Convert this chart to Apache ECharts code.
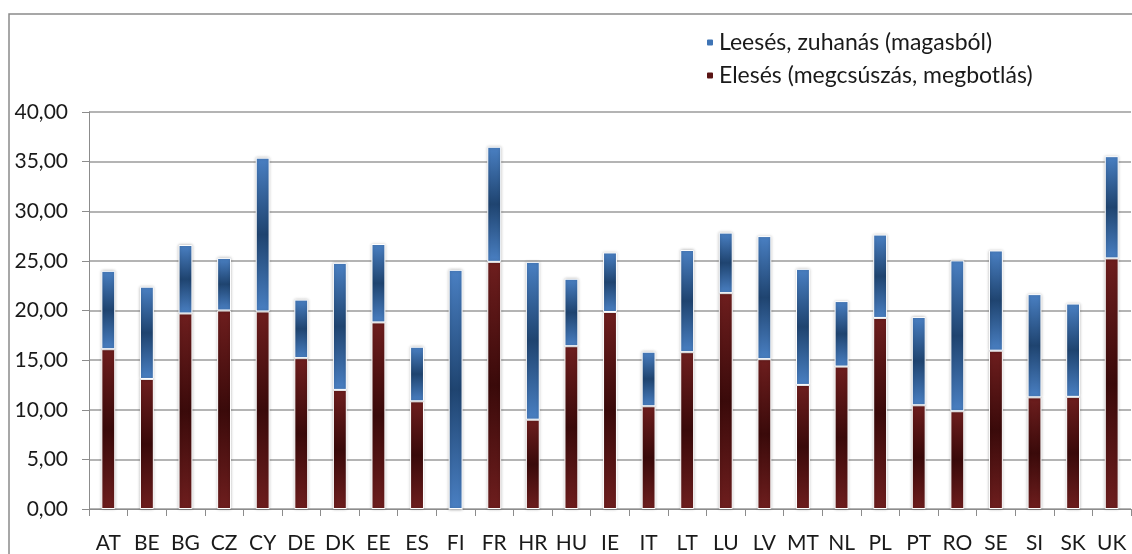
<!DOCTYPE html>
<html>
<head>
<meta charset="utf-8">
<script src="https://cdn.jsdelivr.net/npm/echarts@6/dist/echarts.min.js"></script>
<style>
html,body{margin:0;padding:0;background:#fff;}
#chart{width:1132px;height:554px;}
</style>
</head>
<body>
<div id="chart"></div>
<script>
const categories = ['AT','BE','BG','CZ','CY','DE','DK','EE','ES','FI','FR','HR','HU','IE','IT','LT','LU','LV','MT','NL','PL','PT','RO','SE','SI','SK','UK'];
const eleses = [16.1,13.1,19.7,20.0,19.9,15.2,12.0,18.8,10.85,0,24.9,9.0,16.4,19.85,10.35,15.8,21.75,15.1,12.5,14.35,19.25,10.45,9.85,15.95,11.25,11.3,25.25];
const leeses = [7.9,9.3,6.9,5.3,15.5,5.9,12.8,7.9,5.5,24.1,11.6,15.9,6.8,6.0,5.5,10.3,6.1,12.4,11.7,6.6,8.4,8.9,15.2,10.1,10.4,9.4,10.3];
const seriesNames = ['Leesés, zuhanás (magasból)', 'Elesés (megcsúszás, megbotlás)'];
const yTicks = {min: 0, max: 40, interval: 5};

const FONT = 'Lato';
const chart = echarts.init(document.getElementById('chart'));
function grad(light, dark){
  return new echarts.graphic.LinearGradient(0,0,0,1,[
    {offset:0,color:light},{offset:0.5,color:dark},{offset:1,color:light}
  ]);
}
const itemBase = {borderColor:'#ffffff', borderWidth:1, shadowBlur:3, shadowColor:'rgba(0,0,0,0.25)'};
chart.setOption({
  animation:false,
  backgroundColor:'#fff',
  graphic:[{type:'rect', shape:{x:9,y:14,width:1140,height:600}, style:{fill:'none', stroke:'#8a8a8a', lineWidth:1.5}}],
  legend:{
    orient:'vertical', left:700, top:26, itemWidth:8, itemHeight:8, itemGap:10,
    textStyle:{fontFamily:FONT, fontSize:23, color:'#1a1a1a'},
    data:[{name:seriesNames[0], itemStyle:{color:'#3f74b5'}},{name:seriesNames[1], itemStyle:{color:'#5a1414'}}]
  },
  grid:{left:89, right:1, top:112, bottom:45},
  xAxis:{
    type:'category', data:categories,
    axisLine:{lineStyle:{color:'#8c8c8c', width:1}},
    axisTick:{show:true, length:7, lineStyle:{color:'#8c8c8c'}},
    axisLabel:{interval:0, fontFamily:FONT, fontSize:21, color:'#1a1a1a', margin:24}
  },
  yAxis:{
    type:'value', min:yTicks.min, max:yTicks.max, interval:yTicks.interval,
    axisLine:{show:true, lineStyle:{color:'#8c8c8c', width:1}},
    axisTick:{show:true, length:7, lineStyle:{color:'#8c8c8c'}},
    splitLine:{lineStyle:{color:'#b4b4b4', width:2}},
    axisLabel:{fontFamily:FONT, fontSize:21, color:'#1a1a1a', margin:21,
      formatter:v=>v.toFixed(2).replace('.',',')}
  },
  series:[
    {name:seriesNames[1], type:'bar', stack:'total', data:eleses, barWidth:'36%',
      itemStyle:Object.assign({color:grad('#6e1e1e','#3a0a0a')}, itemBase)},
    {name:seriesNames[0], type:'bar', stack:'total', data:leeses, barWidth:'36%',
      itemStyle:Object.assign({color:grad('#4a80c3','#1f4470')}, itemBase)}
  ]
});
</script>
</body>
</html>
